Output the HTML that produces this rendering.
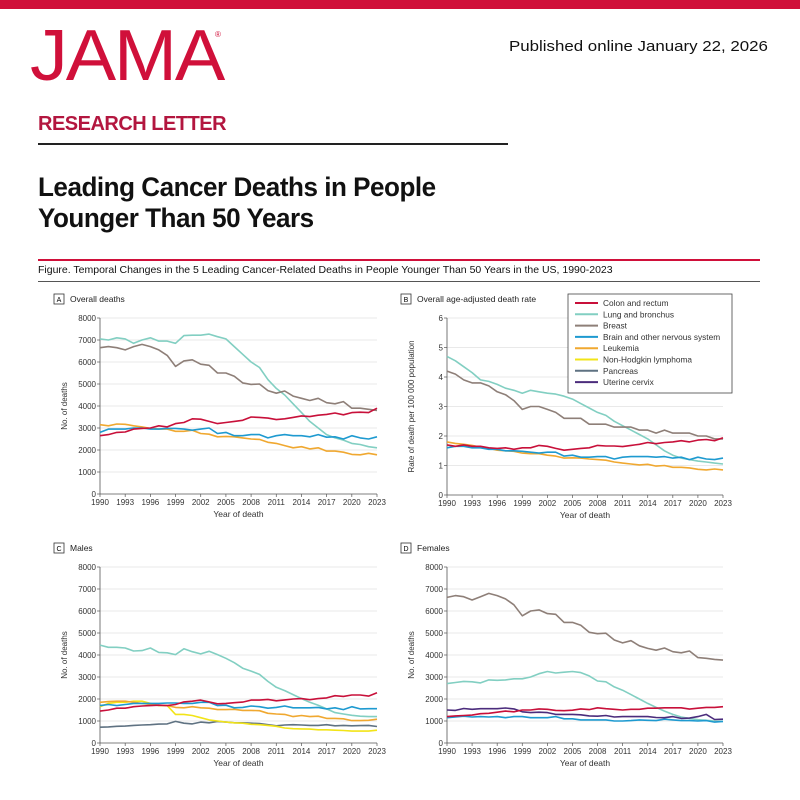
<!DOCTYPE html>
<html><head><meta charset="utf-8"><style>
body{margin:0;width:800px;height:800px;background:#fff;position:relative;overflow:hidden;font-family:"Liberation Sans",sans-serif}
.abs{position:absolute;white-space:nowrap}
</style></head><body>
<div class="abs" style="left:0;top:0;width:800px;height:9px;background:#d0103a"></div>
<div class="abs" style="left:30px;top:20px;font-size:72px;line-height:72px;color:#d0103a;letter-spacing:-2px;transform:scaleX(1.05);transform-origin:left">JAMA</div>
<div class="abs" style="left:215px;top:30px;font-size:8px;color:#d0103a">®</div>
<div class="abs" style="left:509px;top:38px;font-size:15px;color:#111;transform:scaleX(1.125);transform-origin:left">Published online January 22, 2026</div>
<div class="abs" style="left:38px;top:113px;font-size:20px;font-weight:bold;color:#b3163f;letter-spacing:-0.5px">RESEARCH LETTER</div>
<div class="abs" style="left:38px;top:143px;width:470px;height:1.5px;background:#222"></div>
<div class="abs" style="left:38px;top:172px;font-size:27px;line-height:31px;font-weight:bold;color:#111;letter-spacing:-0.5px;transform:scaleX(0.965);transform-origin:left">Leading Cancer Deaths in People<br>Younger Than 50 Years</div>
<div class="abs" style="left:38px;top:259px;width:722px;height:2px;background:#d0103a"></div>
<div class="abs" style="left:38px;top:264px;font-size:10.5px;color:#111">Figure. Temporal Changes in the 5 Leading Cancer-Related Deaths in People Younger Than 50 Years in the US, 1990-2023</div>
<div class="abs" style="left:38px;top:281px;width:722px;height:1px;background:#555"></div>
<svg id="s" width="800" height="800" style="position:absolute;left:0;top:0" font-family="Liberation Sans, sans-serif"></svg>
<script>
const C={colon:'#c8103a',lung:'#82cfc2',breast:'#8e7f78',brain:'#1e9ad0',leuk:'#f0a830',nhl:'#f2e418',panc:'#5f7282',cerv:'#4b2c7c'};
const P=[
{lab:'A',t:'Overall deaths',x0:100,x1:377,y0:318,y1:494,max:8000,step:1000,yl:'No. of deaths',s:{
lung:[7050,7000,7100,7050,6850,7000,7100,6950,6950,6850,7200,7220,7220,7270,7150,7050,6700,6350,6000,5750,5200,4800,4500,4100,3700,3300,3000,2700,2550,2450,2300,2250,2150,2100],
breast:[6650,6700,6650,6550,6700,6800,6700,6550,6300,5800,6050,6100,5900,5850,5500,5500,5350,5050,4980,5000,4700,4580,4680,4450,4350,4250,4350,4150,4100,4200,3900,3900,3850,3800],
leuk:[3150,3100,3180,3170,3100,3050,2980,2950,2950,2850,2850,2900,2750,2720,2600,2620,2600,2550,2500,2480,2350,2300,2200,2100,2150,2050,2100,1950,1950,1900,1800,1780,1850,1780],
brain:[2800,2950,2950,2950,3000,3000,2950,2950,2980,2980,2950,2900,2950,3000,2750,2800,2650,2650,2700,2700,2550,2650,2700,2650,2650,2600,2700,2580,2600,2500,2650,2550,2500,2600],
colon:[2650,2700,2800,2820,2950,2980,3000,3100,3050,3200,3250,3420,3400,3300,3200,3250,3300,3350,3500,3480,3450,3380,3420,3480,3550,3520,3580,3620,3680,3600,3700,3720,3700,3900]}},
{lab:'B',t:'Overall age-adjusted death rate',x0:447,x1:723,y0:318,y1:495,max:6,step:1,yl:'Rate of death per 100 000 population',s:{
lung:[4.7,4.55,4.35,4.15,3.9,3.85,3.75,3.62,3.55,3.45,3.55,3.5,3.45,3.42,3.35,3.25,3.1,2.95,2.8,2.7,2.5,2.35,2.2,2.05,1.9,1.7,1.5,1.35,1.25,1.2,1.15,1.12,1.08,1.05],
breast:[4.2,4.1,3.9,3.8,3.8,3.7,3.5,3.4,3.2,2.9,3.0,3.0,2.9,2.8,2.6,2.6,2.6,2.4,2.4,2.4,2.3,2.3,2.3,2.2,2.2,2.1,2.2,2.1,2.1,2.1,2.0,2.0,1.9,1.9],
leuk:[1.8,1.75,1.72,1.68,1.62,1.58,1.52,1.5,1.48,1.42,1.4,1.4,1.35,1.32,1.25,1.26,1.25,1.22,1.2,1.18,1.12,1.08,1.05,1.02,1.04,0.98,1.0,0.94,0.94,0.92,0.87,0.85,0.88,0.85],
brain:[1.6,1.65,1.65,1.6,1.6,1.55,1.55,1.5,1.5,1.48,1.45,1.42,1.45,1.45,1.32,1.35,1.28,1.28,1.3,1.3,1.22,1.28,1.3,1.3,1.3,1.28,1.3,1.25,1.28,1.2,1.28,1.22,1.2,1.25],
colon:[1.7,1.65,1.7,1.65,1.65,1.6,1.58,1.6,1.55,1.6,1.6,1.68,1.65,1.58,1.52,1.55,1.58,1.6,1.68,1.66,1.66,1.64,1.68,1.72,1.78,1.74,1.78,1.8,1.84,1.8,1.86,1.88,1.84,1.94]}},
{lab:'C',t:'Males',x0:100,x1:377,y0:567,y1:743,max:8000,step:1000,yl:'No. of deaths',s:{
lung:[4450,4350,4350,4320,4180,4200,4320,4120,4100,4020,4280,4150,4050,4170,4020,3850,3650,3400,3270,3120,2800,2530,2380,2200,2020,1850,1720,1550,1380,1320,1260,1220,1200,1200],
panc:[720,730,760,770,800,820,830,860,870,980,900,870,950,920,980,950,920,920,900,880,830,780,820,830,820,800,800,830,780,800,780,790,800,750],
nhl:[1650,1800,1850,1850,1900,1900,1800,1700,1700,1300,1300,1250,1150,1050,1000,950,920,900,850,830,800,760,680,650,640,630,600,600,580,570,540,540,540,580],
leuk:[1850,1880,1900,1900,1850,1800,1750,1720,1700,1620,1600,1650,1600,1580,1520,1520,1530,1480,1480,1470,1350,1320,1300,1200,1250,1200,1220,1120,1120,1100,1020,1020,1030,1080],
brain:[1700,1750,1700,1750,1800,1800,1800,1800,1820,1820,1800,1800,1850,1850,1700,1720,1600,1620,1680,1650,1580,1620,1680,1600,1600,1600,1620,1550,1600,1520,1650,1550,1560,1560],
colon:[1450,1500,1580,1580,1650,1680,1700,1720,1700,1750,1870,1900,1950,1870,1780,1800,1830,1860,1950,1950,1980,1920,1960,2000,2020,1970,2020,2050,2150,2120,2180,2180,2130,2280]}},
{lab:'D',t:'Females',x0:447,x1:723,y0:567,y1:743,max:8000,step:1000,yl:'No. of deaths',s:{
breast:[6620,6700,6650,6500,6650,6800,6700,6550,6280,5780,6000,6050,5880,5850,5480,5480,5350,5030,4970,4990,4680,4550,4650,4420,4300,4220,4320,4150,4100,4180,3880,3850,3800,3770],
lung:[2700,2750,2800,2780,2730,2870,2850,2870,2920,2920,3000,3150,3250,3180,3220,3250,3200,3050,2820,2780,2550,2400,2200,2000,1800,1620,1450,1300,1180,1120,1060,1030,1000,980],
brain:[1150,1180,1220,1180,1200,1180,1200,1150,1200,1200,1150,1150,1150,1200,1100,1100,1050,1050,1050,1050,1000,1000,1020,1050,1030,1020,1080,1050,1020,1020,1000,1020,950,980],
cerv:[1500,1480,1570,1530,1560,1560,1560,1590,1550,1420,1380,1400,1380,1300,1300,1300,1280,1230,1220,1250,1180,1200,1200,1200,1200,1160,1150,1200,1120,1130,1200,1300,1070,1080],
colon:[1200,1230,1250,1270,1330,1350,1400,1450,1420,1500,1500,1550,1530,1480,1470,1490,1550,1520,1600,1560,1530,1500,1530,1530,1580,1580,1600,1600,1600,1540,1580,1620,1620,1650]}}];
let h='';
for(const p of P){
 const X=i=>p.x0+(p.x1-p.x0)*i/33, Y=v=>p.y1-(p.y1-p.y0)*v/p.max;
 h+=`<rect x="${p.x0-46}" y="${p.y0-24}" width="10" height="10" fill="none" stroke="#333" stroke-width="0.8"/><text x="${p.x0-41}" y="${p.y0-16}" font-size="7" text-anchor="middle">${p.lab}</text><text x="${p.x0-30}" y="${p.y0-16}" font-size="8.5" fill="#222">${p.t}</text>`;
 for(let v=0;v<=p.max+1e-9;v+=p.step){const y=Y(v);
  if(v>0)h+=`<line x1="${p.x0}" x2="${p.x1}" y1="${y}" y2="${y}" stroke="#e2e2e2" stroke-width="0.8"/>`;
  h+=`<line x1="${p.x0-3}" x2="${p.x0}" y1="${y}" y2="${y}" stroke="#555" stroke-width="0.7"/><text x="${p.x0-4}" y="${y+3}" font-size="8" text-anchor="end" fill="#333">${Math.round(v)}</text>`;}
 h+=`<line x1="${p.x0}" x2="${p.x0}" y1="${p.y0}" y2="${p.y1}" stroke="#555" stroke-width="0.8"/><line x1="${p.x0}" x2="${p.x1}" y1="${p.y1}" y2="${p.y1}" stroke="#555" stroke-width="0.8"/>`;
 for(let i=0;i<=33;i+=3){const x=X(i);h+=`<line x1="${x}" x2="${x}" y1="${p.y1}" y2="${p.y1+3}" stroke="#555" stroke-width="0.7"/><text x="${x}" y="${p.y1+11}" font-size="8" text-anchor="middle" fill="#333">${1990+i}</text>`;}
 h+=`<text x="${(p.x0+p.x1)/2}" y="${p.y1+23}" font-size="8.5" text-anchor="middle" fill="#333">Year of death</text>`;
 const cy=(p.y0+p.y1)/2;h+=`<text transform="translate(${p.x0-33},${cy}) rotate(-90)" font-size="8" text-anchor="middle" fill="#333">${p.yl}</text>`;
 for(const k in p.s){h+=`<polyline fill="none" stroke="${C[k]}" stroke-width="1.6" stroke-linejoin="round" points="${p.s[k].map((v,i)=>X(i).toFixed(1)+','+Y(v).toFixed(1)).join(' ')}"/>`;}
}
h+=`<rect x="568" y="294" width="164" height="99" fill="#fff" stroke="#444" stroke-width="0.8"/>`;
const L=[['colon','Colon and rectum'],['lung','Lung and bronchus'],['breast','Breast'],['brain','Brain and other nervous system'],['leuk','Leukemia'],['nhl','Non-Hodgkin lymphoma'],['panc','Pancreas'],['cerv','Uterine cervix']];
L.forEach((l,i)=>{const y=303+i*11.3;h+=`<line x1="575" x2="598" y1="${y}" y2="${y}" stroke="${C[l[0]]}" stroke-width="2"/><text x="603" y="${y+3}" font-size="8.3" fill="#333">${l[1]}</text>`;});
document.getElementById('s').innerHTML=h;
</script>
</body></html>
